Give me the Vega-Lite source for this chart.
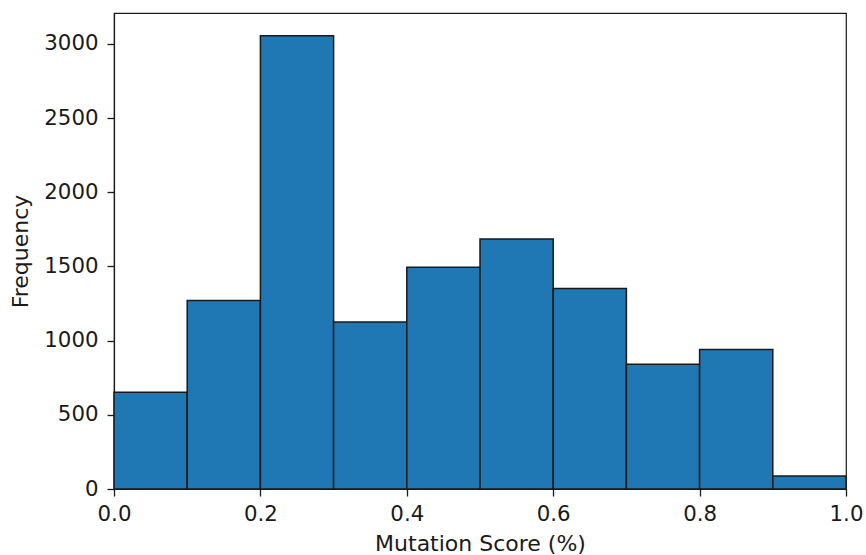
{
  "$schema": "https://vega.github.io/schema/vega-lite/v6.json",
  "width": 732,
  "height": 476,
  "autosize": {"type": "none"},
  "padding": {"left": 114, "top": 13, "right": 20, "bottom": 66},
  "background": "white",
  "config": {
    "view": {"stroke": "#1a1a1a", "strokeWidth": 1.2},
    "font": "DejaVu Sans",
    "axis": {
      "labelFont": "DejaVu Sans",
      "titleFont": "DejaVu Sans",
      "labelFontSize": 21.3,
      "titleFontSize": 22,
      "titleFontWeight": "normal",
      "labelColor": "#1a1a1a",
      "titleColor": "#1a1a1a",
      "tickColor": "#1a1a1a",
      "domainColor": "#1a1a1a",
      "tickSize": 7,
      "tickWidth": 1.3,
      "domainWidth": 1.2,
      "grid": false
    }
  },
  "data": {
    "values": [
      {"bin_start": 0.0, "bin_end": 0.1, "count": 652},
      {"bin_start": 0.1, "bin_end": 0.2, "count": 1270},
      {"bin_start": 0.2, "bin_end": 0.3, "count": 3055},
      {"bin_start": 0.3, "bin_end": 0.4, "count": 1125},
      {"bin_start": 0.4, "bin_end": 0.5, "count": 1494},
      {"bin_start": 0.5, "bin_end": 0.6, "count": 1685},
      {"bin_start": 0.6, "bin_end": 0.7, "count": 1352},
      {"bin_start": 0.7, "bin_end": 0.8, "count": 840},
      {"bin_start": 0.8, "bin_end": 0.9, "count": 940},
      {"bin_start": 0.9, "bin_end": 1.0, "count": 88}
    ]
  },
  "mark": {"type": "bar", "color": "#1f77b4", "stroke": "#1a1a1a", "strokeWidth": 1.5},
  "encoding": {
    "x": {
      "field": "bin_start",
      "type": "quantitative",
      "scale": {"domain": [0, 1], "nice": false, "zero": false},
      "axis": {"values": [0, 0.2, 0.4, 0.6, 0.8, 1.0], "format": ".1f", "title": "Mutation Score (%)", "labelPadding": 7, "titlePadding": 9, "labelFlush": false}
    },
    "x2": {"field": "bin_end"},
    "y": {
      "field": "count",
      "type": "quantitative",
      "scale": {"domain": [0, 3208], "nice": false},
      "axis": {"values": [0, 500, 1000, 1500, 2000, 2500, 3000], "format": "d", "title": "Frequency", "labelPadding": 9, "titlePadding": 11}
    },
    "y2": {"datum": 0}
  }
}
